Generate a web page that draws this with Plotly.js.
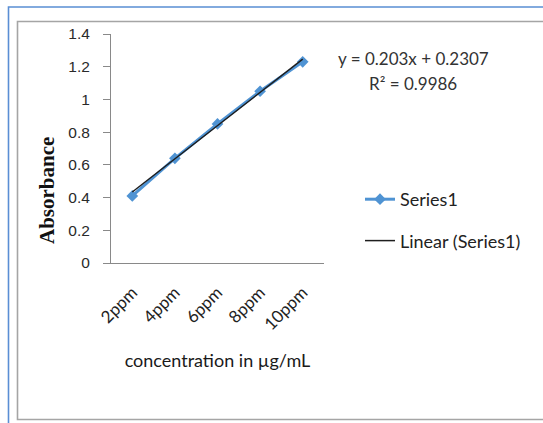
<!DOCTYPE html>
<html>
<head>
<meta charset="utf-8">
<script src="https://cdn.plot.ly/plotly-3.0.1.min.js"></script>
<style>
  html, body { margin: 0; padding: 0; background: #ffffff; }
  #chart { width: 543px; height: 423px; }
</style>
</head>
<body>
<div id="chart"></div>
<script>
// ---- data ----
const categories = ["2ppm", "4ppm", "6ppm", "8ppm", "10ppm"];
const absorbance = [0.41, 0.64, 0.85, 1.05, 1.23];
const trendCategories = ["2ppm", "10ppm"];
const trendValues = [0.434, 1.246];
const yTickVals = [0, 0.2, 0.4, 0.6, 0.8, 1, 1.2, 1.4];
const yTickText = ["0", "0.2", "0.4", "0.6", "0.8", "1", "1.2", "1.4"];
const equationText = "y = 0.203x + 0.2307";
const r2Text = "R\u00B2 = 0.9986";
const seriesName = "Series1";
const trendName = "Linear (Series1)";
const xTitle = "concentration in \u00B5g/mL";
const yTitle = "Absorbance";

// ---- geometry ----
const W = 543, H = 423;
const M = { l: 111, r: 219, t: 34, b: 160 };
const PW = W - M.l - M.r, PH = H - M.t - M.b;
const px = x => (x - M.l) / PW;
const py = y => (H - M.b - y) / PH;

const traces = [
  {
    x: categories, y: absorbance, name: seriesName, type: "scatter",
    mode: "lines+markers", legendgroup: "a",
    line: { color: "#4f93d3", width: 3 },
    marker: { symbol: "diamond", size: 9, color: "#4f93d3" }
  },
  {
    x: trendCategories, y: trendValues, name: trendName, type: "scatter",
    mode: "lines", legendgroup: "b",
    line: { color: "#1e1e1e", width: 1.5 }
  }
];

const axisColor = "#898989";
const layout = {
  width: W, height: H,
  margin: M,
  paper_bgcolor: "rgba(0,0,0,0)",
  plot_bgcolor: "rgba(0,0,0,0)",
  showlegend: true,
  legend: {
    x: px(360), y: py(181), xanchor: "left", yanchor: "top",
    traceorder: "grouped", tracegroupgap: 15,
    font: { family: "Lato", size: 18, color: "#222222" },
    bgcolor: "rgba(0,0,0,0)", borderwidth: 0
  },
  xaxis: {
    type: "category", range: [-0.5, 4.5],
    showline: true, linecolor: axisColor, linewidth: 1,
    ticks: "", showgrid: false, zeroline: false,
    tickangle: -45,
    tickfont: { family: "Lato", size: 17, color: "#222222" },
    ticklabelstandoff: 12,
    title: { text: xTitle, font: { family: "Lato", size: 18, color: "#1a1a1a" }, standoff: 21 },
    fixedrange: true
  },
  yaxis: {
    range: [0, 1.4], tickvals: yTickVals, ticktext: yTickText,
    showline: true, linecolor: axisColor, linewidth: 1,
    ticks: "outside", ticklen: 7, tickcolor: axisColor, tickwidth: 1,
    showgrid: false, zeroline: false,
    tickfont: { family: "Liberation Sans", size: 15.5, color: "#2a2a2a" },
    ticklabelstandoff: 10,
    fixedrange: true
  },
  annotations: [
    { xref: "paper", yref: "paper", x: px(47), y: py(191), text: yTitle,
      textangle: -90, showarrow: false, xanchor: "center", yanchor: "middle",
      font: { family: "Liberation Serif", size: 21, color: "#111111", weight: "bold" } },
    { xref: "paper", yref: "paper", x: px(413), y: py(58), text: equationText,
      showarrow: false, xanchor: "center", yanchor: "middle",
      font: { family: "Lato", size: 17, color: "#333333" } },
    { xref: "paper", yref: "paper", x: px(413), y: py(83), text: r2Text,
      showarrow: false, xanchor: "center", yanchor: "middle",
      font: { family: "Lato", size: 17, color: "#333333" } }
  ],
  shapes: [
    { type: "rect", xref: "paper", yref: "paper", layer: "below",
      x0: px(8.5), x1: px(600), y0: py(7), y1: py(480),
      line: { color: "#5a8ed4", width: 1.6 }, fillcolor: "rgba(0,0,0,0)" },
    { type: "rect", xref: "paper", yref: "paper", layer: "below",
      x0: px(17.5), x1: px(600), y0: py(21.5), y1: py(419.5),
      line: { color: "#a5a5a5", width: 1.6 }, fillcolor: "rgba(0,0,0,0)" }
  ]
};

Plotly.newPlot("chart", traces, layout, { displayModeBar: false, staticPlot: true });
</script>
</body>
</html>
